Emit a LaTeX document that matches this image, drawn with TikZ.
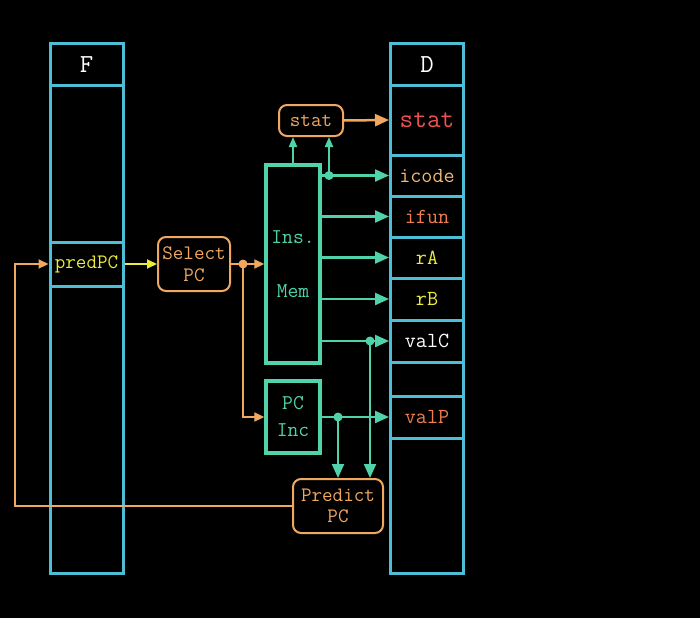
\documentclass[tikz,border=0pt]{standalone}
\usetikzlibrary{arrows.meta}
\definecolor{regc}{RGB}{78,190,214}
\definecolor{grn}{RGB}{80,210,170}
\definecolor{org}{RGB}{240,168,96}
\definecolor{yel}{RGB}{235,235,60}
\definecolor{redc}{RGB}{240,80,80}
\definecolor{ifunc}{RGB}{240,125,80}
\definecolor{icodec}{RGB}{240,185,115}
\tikzset{
  reg/.style={draw=regc, line width=3pt, minimum width=73pt, inner sep=0pt, font=\fontsize{21.5}{24}\ttfamily},
  hdr/.style={reg, text=white, font=\fontsize{26}{28}\ttfamily},
  unit/.style={draw=grn, line width=3.5pt, minimum width=54pt, inner sep=0pt, align=center, text=grn, font=\fontsize{21}{27}\ttfamily},
  ctl/.style={draw=org, line width=2pt, rounded corners=8pt, inner sep=0pt, align=center, text=org, font=\fontsize{20.5}{21.5}\ttfamily},
  garr/.style={draw=grn, line width=2.2pt, -{Triangle[length=14pt,width=12pt]}},
  gsm/.style={draw=grn, line width=2pt, -{Triangle[length=10pt,width=8pt]}},
  oarr/.style={draw=org, line width=2.2pt, -{Triangle[length=10pt,width=9pt]}},
  dotg/.style={circle, fill=grn, inner sep=0pt, minimum size=9pt},
  doto/.style={circle, fill=org, inner sep=0pt, minimum size=9pt},
}
\begin{document}
\begin{tikzpicture}[x=1pt,y=-1pt]
\fill[black] (0,0) rectangle (700,618);
\useasboundingbox (0,0) rectangle (700,618);
% F register
\node[hdr, minimum height=41pt] (Fh) at (86.5,64.5) {F};
\node[reg, minimum height=157pt] (Ft) at (86.5,163.5) {};
\node[reg, minimum height=44pt, text=yel, font=\fontsize{20.5}{24}\ttfamily] (Fpred) at (86.5,264) {predPC};
\node[reg, minimum height=287pt] (Fb) at (86.5,429.5) {};
% D register
\node[hdr, minimum height=41pt] (Dh) at (427,64.5) {D};
\node[reg, minimum height=70pt, text=redc, font=\fontsize{26.5}{30}\ttfamily] (Dstat) at (427,120) {stat};
\node[reg, minimum height=41pt, text=icodec] (Dicode) at (427,175.5) {icode};
\node[reg, minimum height=41pt, text=ifunc] (Difun) at (427,216.5) {ifun};
\node[reg, minimum height=41pt, text=yel] (DrA) at (427,257.5) {rA};
\node[reg, minimum height=42pt, text=yel] (DrB) at (427,299) {rB};
\node[reg, minimum height=42pt, text=white] (DvalC) at (427,341) {valC};
\node[reg, minimum height=34pt] (De) at (427,379) {};
\node[reg, minimum height=42pt, text=ifunc] (DvalP) at (427,417) {valP};
\node[reg, minimum height=135pt] (Db) at (427,505.5) {};
% units
\node[ctl, minimum width=72pt, minimum height=54pt] (sel) at (194,264) {Select\\PC};
\node[unit, minimum height=198pt] (imem) at (293,264) {Ins.\\[27pt]Mem};
\node[unit, minimum height=72pt] (pcinc) at (293,417) {PC\\Inc};
\node[ctl, minimum width=64pt, minimum height=31pt] (stat) at (311,120.5) {stat};
\node[ctl, minimum width=90pt, minimum height=54pt] (pred) at (338,506) {Predict\\PC};
% dots
\node[doto] (d1) at (243,264) {};
\node[dotg] (d2) at (329,175.5) {};
\node[dotg] (d3) at (370,341) {};
\node[dotg] (d4) at (338,417) {};
% connectors
\draw[draw=yel, line width=2pt, -{Triangle[length=10pt,width=9pt]}] (Fpred.east) -- (sel.west);
\draw[oarr] (sel.east) -- (imem.west);
\draw[oarr] (d1.center) |- (pcinc.west);
\draw[draw=org, line width=2.5pt, -{Triangle[length=14pt,width=12pt]}] (stat.east) -- (Dstat.west);
\draw[gsm] (imem.north) -- (imem.north |- stat.south);
\draw[gsm] (d2.center) -- (d2.center |- stat.south);
\draw[garr] (imem.east |- Dicode.west) -- (Dicode.west);
\draw[garr] (imem.east |- Difun.west) -- (Difun.west);
\draw[garr] (imem.east |- DrA.west) -- (DrA.west);
\draw[garr] (imem.east |- DrB.west) -- (DrB.west);
\draw[garr] (imem.east |- DvalC.west) -- (DvalC.west);
\draw[garr] (pcinc.east) -- (pcinc.east -| DvalP.west);
\draw[garr] (d4.center) -- (d4.center |- pred.north);
\draw[garr] (d3.center) -- (d3.center |- pred.north);
\coordinate (fb1) at (15,506);
\coordinate (fb2) at (15,264);
\draw[oarr] (pred.west) -- (fb1) -- (fb2) -- (Fpred.west);
\end{tikzpicture}
\end{document}
